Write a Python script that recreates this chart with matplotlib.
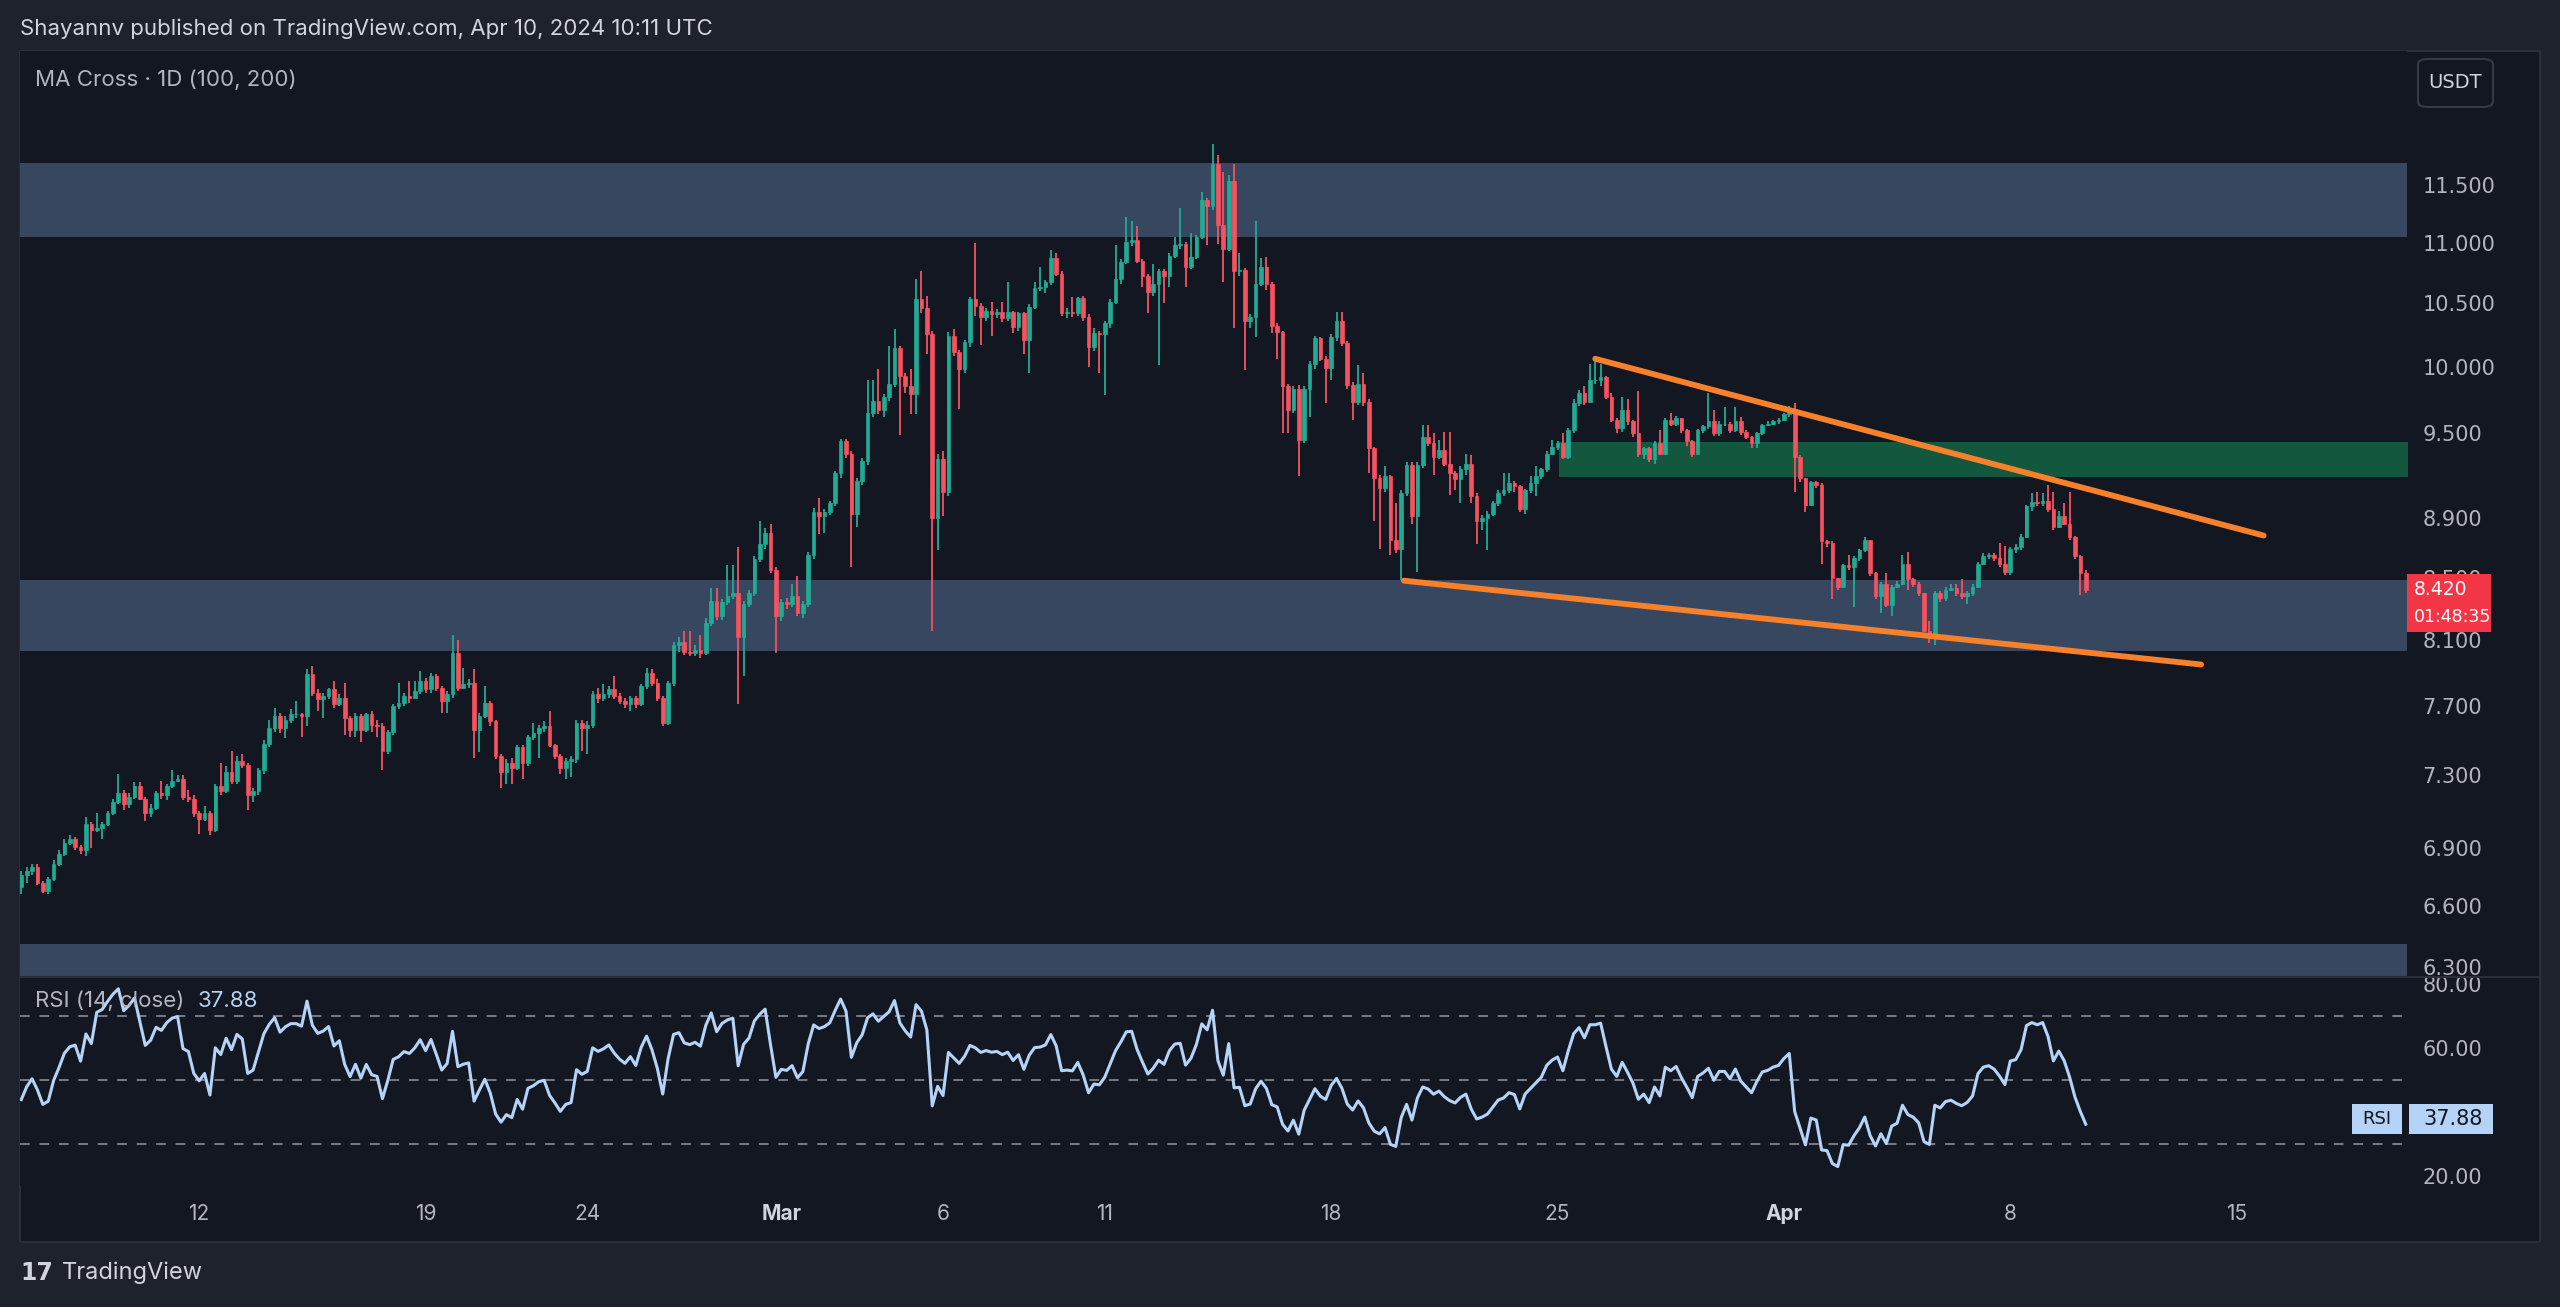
import numpy as np
import pandas as pd
import matplotlib
matplotlib.use('Agg')
import matplotlib.pyplot as plt
from matplotlib.patches import Rectangle, FancyBboxPatch
from matplotlib.lines import Line2D
from matplotlib.ticker import NullLocator

plt.rcParams['font.family'] = ['Inter', 'DejaVu Sans']

# ---- data (4h candles, first bar 2024-02-06 12:00 UTC) ----
start_time = '2024-02-06 12:00'
first_open = 6.70
close_px = [
    6.76, 6.78, 6.80, 6.72, 6.68, 6.74, 6.82, 6.87, 6.93, 6.95,
    6.91, 6.89, 7.03, 7.00, 7.01, 7.03, 7.09, 7.15, 7.20, 7.14,
    7.18, 7.24, 7.17, 7.09, 7.12, 7.20, 7.19, 7.24, 7.27, 7.28,
    7.18, 7.17, 7.09, 7.06, 7.09, 7.00, 7.24, 7.21, 7.32, 7.27,
    7.38, 7.36, 7.19, 7.21, 7.33, 7.48, 7.57, 7.64, 7.57, 7.62,
    7.65, 7.65, 7.64, 7.89, 7.78, 7.74, 7.76, 7.80, 7.71, 7.75,
    7.63, 7.56, 7.64, 7.56, 7.65, 7.59, 7.58, 7.44, 7.55, 7.70,
    7.72, 7.76, 7.75, 7.79, 7.85, 7.80, 7.88, 7.81, 7.73, 7.77,
    8.02, 7.81, 7.83, 7.84, 7.56, 7.64, 7.72, 7.61, 7.41, 7.32,
    7.37, 7.34, 7.46, 7.37, 7.52, 7.54, 7.57, 7.58, 7.47, 7.41,
    7.34, 7.38, 7.39, 7.60, 7.57, 7.59, 7.77, 7.75, 7.77, 7.80,
    7.76, 7.73, 7.71, 7.75, 7.71, 7.82, 7.90, 7.84, 7.75, 7.60,
    7.84, 8.07, 8.09, 8.03, 8.02, 8.04, 8.02, 8.21, 8.35, 8.25,
    8.34, 8.38, 8.40, 8.12, 8.33, 8.40, 8.62, 8.72, 8.80, 8.55,
    8.25, 8.34, 8.33, 8.38, 8.27, 8.33, 8.65, 8.94, 8.91, 8.94,
    9.00, 9.21, 9.44, 9.35, 8.93, 9.16, 9.30, 9.65, 9.74, 9.67,
    9.77, 9.87, 10.14, 9.93, 9.85, 9.79, 10.53, 10.46, 10.25, 8.90,
    9.31, 9.08, 10.24, 10.11, 9.98, 10.19, 10.53, 10.48, 10.39, 10.44,
    10.41, 10.43, 10.38, 10.43, 10.31, 10.42, 10.21, 10.47, 10.62, 10.63,
    10.67, 10.87, 10.74, 10.42, 10.43, 10.42, 10.54, 10.39, 10.15, 10.26,
    10.25, 10.34, 10.51, 10.70, 10.84, 11.01, 11.02, 10.85, 10.72, 10.59,
    10.66, 10.76, 10.72, 10.89, 10.98, 10.99, 10.80, 10.88, 11.05, 11.37,
    11.32, 11.69, 11.15, 10.95, 11.54, 10.76, 10.77, 10.36, 10.39, 10.66,
    10.80, 10.66, 10.32, 10.27, 9.85, 9.67, 9.83, 9.45, 9.83, 10.02,
    10.22, 10.06, 9.99, 10.23, 10.36, 10.18, 9.86, 9.73, 9.87, 9.73,
    9.39, 9.18, 9.11, 9.19, 8.75, 8.69, 9.07, 9.27, 8.91, 9.27,
    9.47, 9.43, 9.33, 9.38, 9.28, 9.21, 9.17, 9.24, 9.28, 9.05,
    8.88, 8.90, 8.93, 9.00, 9.07, 9.09, 9.14, 9.12, 8.96, 9.09,
    9.14, 9.19, 9.24, 9.35, 9.40, 9.43, 9.33, 9.52, 9.72, 9.80,
    9.73, 9.90, 9.90, 9.92, 9.77, 9.60, 9.54, 9.67, 9.59, 9.50,
    9.35, 9.39, 9.31, 9.43, 9.35, 9.60, 9.57, 9.61, 9.52, 9.44,
    9.35, 9.52, 9.55, 9.59, 9.50, 9.57, 9.57, 9.52, 9.59, 9.51,
    9.47, 9.43, 9.50, 9.56, 9.57, 9.59, 9.60, 9.64, 9.67, 9.33,
    9.18, 8.99, 9.15, 9.13, 8.74, 8.73, 8.50, 8.44, 8.58, 8.57,
    8.63, 8.68, 8.75, 8.53, 8.38, 8.46, 8.32, 8.44, 8.46, 8.59,
    8.49, 8.46, 8.40, 8.16, 8.12, 8.40, 8.37, 8.42, 8.43, 8.40,
    8.38, 8.40, 8.44, 8.59, 8.64, 8.65, 8.63, 8.59, 8.54, 8.69,
    8.70, 8.77, 8.98, 9.01, 9.00, 9.02, 8.96, 8.84, 8.91, 8.86,
    8.77, 8.64, 8.53, 8.42,
]
high_px = [
    6.78, 6.80, 6.82, 6.82, 6.73, 6.75, 6.84, 6.89, 6.95, 6.97,
    6.96, 6.92, 7.07, 7.04, 7.09, 7.04, 7.10, 7.17, 7.31, 7.22,
    7.20, 7.26, 7.26, 7.18, 7.14, 7.21, 7.27, 7.25, 7.33, 7.30,
    7.30, 7.22, 7.19, 7.10, 7.13, 7.10, 7.25, 7.37, 7.35, 7.44,
    7.41, 7.42, 7.37, 7.23, 7.34, 7.50, 7.62, 7.69, 7.66, 7.64,
    7.68, 7.73, 7.66, 7.92, 7.94, 7.80, 7.78, 7.81, 7.85, 7.77,
    7.84, 7.64, 7.66, 7.65, 7.66, 7.67, 7.62, 7.60, 7.56, 7.71,
    7.84, 7.78, 7.85, 7.85, 7.91, 7.87, 7.90, 7.89, 7.82, 7.79,
    8.13, 8.10, 7.93, 7.86, 7.92, 7.66, 7.82, 7.73, 7.62, 7.42,
    7.39, 7.40, 7.47, 7.47, 7.53, 7.60, 7.59, 7.61, 7.67, 7.48,
    7.42, 7.40, 7.41, 7.62, 7.62, 7.61, 7.79, 7.81, 7.83, 7.82,
    7.88, 7.78, 7.75, 7.76, 7.76, 7.83, 7.93, 7.92, 7.86, 7.76,
    7.85, 8.09, 8.12, 8.16, 8.16, 8.07, 8.13, 8.24, 8.43, 8.43,
    8.36, 8.58, 8.58, 8.70, 8.35, 8.42, 8.64, 8.88, 8.83, 8.86,
    8.57, 8.36, 8.37, 8.46, 8.51, 8.35, 8.67, 8.97, 9.04, 8.96,
    9.02, 9.23, 9.46, 9.46, 9.37, 9.18, 9.32, 9.90, 9.90, 9.98,
    9.79, 10.16, 10.29, 10.16, 9.95, 9.98, 10.70, 10.76, 10.56, 10.28,
    9.35, 9.37, 10.27, 10.29, 10.13, 10.21, 10.55, 11.00, 10.50, 10.46,
    10.51, 10.45, 10.51, 10.67, 10.44, 10.43, 10.43, 10.49, 10.67, 10.80,
    10.69, 10.94, 10.91, 10.76, 10.46, 10.55, 10.55, 10.56, 10.41, 10.30,
    10.28, 10.36, 10.53, 10.98, 10.86, 11.22, 11.19, 11.14, 10.86, 10.74,
    10.82, 10.78, 10.78, 10.91, 11.05, 11.30, 11.01, 11.08, 11.07, 11.44,
    11.39, 11.87, 11.77, 11.62, 11.59, 11.69, 10.91, 10.79, 10.41, 11.19,
    10.87, 10.88, 10.67, 10.34, 10.28, 9.87, 9.85, 9.86, 9.85, 10.04,
    10.24, 10.23, 10.08, 10.25, 10.43, 10.43, 10.20, 9.88, 10.01, 9.95,
    9.75, 9.40, 9.20, 9.26, 9.20, 9.00, 9.09, 9.29, 9.29, 9.29,
    9.56, 9.56, 9.50, 9.45, 9.51, 9.51, 9.23, 9.26, 9.35, 9.34,
    9.07, 8.92, 8.95, 9.02, 9.09, 9.21, 9.21, 9.16, 9.13, 9.10,
    9.19, 9.26, 9.25, 9.37, 9.45, 9.44, 9.50, 9.54, 9.75, 9.82,
    9.85, 10.02, 10.06, 10.02, 9.93, 9.80, 9.61, 9.77, 9.75, 9.60,
    9.81, 9.40, 9.40, 9.44, 9.52, 9.61, 9.65, 9.63, 9.61, 9.53,
    9.45, 9.53, 9.56, 9.80, 9.67, 9.59, 9.69, 9.58, 9.69, 9.62,
    9.52, 9.48, 9.51, 9.57, 9.59, 9.60, 9.61, 9.65, 9.70, 9.72,
    9.34, 9.18, 9.16, 9.16, 9.14, 8.75, 8.74, 8.50, 8.59, 8.65,
    8.64, 8.69, 8.77, 8.75, 8.54, 8.47, 8.53, 8.45, 8.48, 8.65,
    8.67, 8.50, 8.47, 8.40, 8.22, 8.41, 8.41, 8.44, 8.46, 8.46,
    8.49, 8.41, 8.46, 8.60, 8.66, 8.66, 8.66, 8.73, 8.71, 8.70,
    8.72, 8.79, 8.99, 9.07, 9.08, 9.07, 9.13, 9.08, 8.95, 9.00,
    9.08, 8.78, 8.65, 8.55,
]
low_px = [
    6.66, 6.72, 6.76, 6.71, 6.67, 6.66, 6.73, 6.81, 6.86, 6.92,
    6.89, 6.87, 6.86, 6.90, 6.99, 6.95, 7.02, 7.08, 7.14, 7.11,
    7.12, 7.17, 7.16, 7.05, 7.07, 7.11, 7.17, 7.16, 7.23, 7.26,
    7.16, 7.15, 7.07, 6.98, 7.05, 6.97, 6.99, 7.19, 7.20, 7.25,
    7.25, 7.34, 7.11, 7.15, 7.19, 7.31, 7.46, 7.55, 7.54, 7.51,
    7.60, 7.63, 7.52, 7.58, 7.76, 7.67, 7.63, 7.74, 7.69, 7.70,
    7.53, 7.52, 7.52, 7.49, 7.55, 7.55, 7.52, 7.33, 7.42, 7.53,
    7.68, 7.70, 7.72, 7.75, 7.77, 7.78, 7.78, 7.79, 7.66, 7.66,
    7.75, 7.79, 7.80, 7.81, 7.40, 7.43, 7.63, 7.58, 7.39, 7.23,
    7.25, 7.25, 7.33, 7.28, 7.35, 7.50, 7.40, 7.55, 7.46, 7.39,
    7.31, 7.28, 7.29, 7.37, 7.44, 7.42, 7.57, 7.72, 7.73, 7.75,
    7.74, 7.71, 7.69, 7.67, 7.69, 7.70, 7.80, 7.82, 7.73, 7.58,
    7.59, 7.82, 8.03, 8.01, 8.00, 8.00, 7.99, 8.01, 8.19, 8.23,
    8.23, 8.32, 8.36, 7.71, 7.88, 8.31, 8.38, 8.60, 8.69, 8.53,
    8.02, 8.22, 8.30, 8.31, 8.25, 8.24, 8.31, 8.62, 8.79, 8.80,
    8.92, 8.98, 9.18, 9.32, 8.57, 8.84, 9.13, 9.27, 9.62, 9.64,
    9.62, 9.74, 9.84, 9.49, 9.80, 9.64, 9.64, 10.42, 10.10, 8.16,
    8.68, 8.91, 9.05, 10.08, 9.68, 9.95, 10.15, 10.40, 10.17, 10.36,
    10.24, 10.38, 10.35, 10.36, 10.26, 10.28, 10.10, 9.95, 10.45, 10.60,
    10.58, 10.65, 10.72, 10.40, 10.38, 10.39, 10.40, 10.36, 10.00, 10.12,
    9.95, 9.78, 10.30, 10.49, 10.66, 10.82, 10.97, 10.83, 10.63, 10.42,
    10.56, 10.01, 10.50, 10.63, 10.87, 10.95, 10.63, 10.78, 10.86, 11.03,
    10.98, 11.28, 10.99, 10.67, 10.93, 10.30, 10.72, 9.975, 10.30, 10.23,
    10.64, 10.61, 10.26, 10.06, 9.50, 9.50, 9.65, 9.19, 9.43, 9.62,
    9.98, 10.04, 9.72, 9.90, 10.20, 10.16, 9.83, 9.60, 9.71, 9.70,
    9.21, 8.88, 8.69, 9.08, 8.65, 8.66, 8.485, 9.05, 8.86, 8.54,
    9.25, 9.41, 9.20, 9.31, 9.26, 9.06, 9.09, 9.00, 9.20, 9.00,
    8.72, 8.82, 8.68, 8.91, 8.98, 9.05, 9.07, 9.08, 8.94, 8.93,
    9.07, 9.05, 9.17, 9.22, 9.34, 9.38, 9.31, 9.31, 9.50, 9.70,
    9.71, 9.72, 9.87, 9.85, 9.75, 9.58, 9.50, 9.51, 9.56, 9.47,
    9.33, 9.31, 9.29, 9.28, 9.34, 9.34, 9.55, 9.55, 9.50, 9.41,
    9.33, 9.34, 9.50, 9.53, 9.48, 9.48, 9.55, 9.50, 9.51, 9.49,
    9.46, 9.39, 9.39, 9.49, 9.55, 9.56, 9.57, 9.59, 9.62, 9.08,
    9.15, 8.94, 8.98, 9.11, 8.59, 8.70, 8.36, 8.42, 8.43, 8.55,
    8.31, 8.61, 8.67, 8.51, 8.36, 8.27, 8.31, 8.25, 8.43, 8.45,
    8.42, 8.44, 8.38, 8.15, 8.08, 8.07, 8.34, 8.35, 8.41, 8.38,
    8.36, 8.33, 8.38, 8.43, 8.58, 8.62, 8.61, 8.57, 8.52, 8.52,
    8.66, 8.68, 8.76, 8.95, 8.98, 8.98, 8.94, 8.82, 8.83, 8.85,
    8.75, 8.62, 8.39, 8.40,
]
# RSI for the first bars (history before the window is not visible)
rsi_head = [44, 48, 50.5, 47, 42.5, 43.5, 50, 54, 58.5, 60.5, 61, 56, 64.5, 61.5]

# drawn zones (price ranges) and trendlines (bar index, price)
grey_zones = [(11.05, 11.70), (8.033, 8.485), (6.41, 6.0)]
green_zone = (285.3, 9.185, 9.436)
trend_upper = [(292, 10.06), (416, 8.78)]
trend_lower = [(256.5, 8.48), (404.4, 7.95)]

price_ticks = [11.5, 11.0, 10.5, 10.0, 9.5, 8.9, 8.5, 8.1, 7.7, 7.3, 6.9, 6.6, 6.3]
rsi_ticks = [80, 60, 20]
tick_dates = ['2024-02-12', '2024-02-19', '2024-02-24', '2024-03-01', '2024-03-06',
              '2024-03-11', '2024-03-18', '2024-03-25', '2024-04-01', '2024-04-08',
              '2024-04-15']
tick_labels = ['12', '19', '24', 'Mar', '6', '11', '18', '25', 'Apr', '8', '15']

# ---- colours ----
BG = '#1e222d'
PANE = '#131722'
UP = '#22ab94'
DOWN = '#f7525f'
ZONE = '#37475f'
GREENZ = '#13573f'
ORANGE = '#f7802b'
TXT = '#b2b5be'
AXFONT = 'DejaVu Sans'

W, H = 2560, 1307
fig = plt.figure(figsize=(W / 100, H / 100), dpi=100)
fig.patch.set_facecolor(BG)


def rect(x0, y0, x1, y1):
    return [x0 / W, 1 - y1 / H, (x1 - x0) / W, (y1 - y0) / H]


fig.add_artist(Rectangle((20 / W, 1 - 1242 / H), 2520 / W, (1242 - 51) / H,
                         transform=fig.transFigure, facecolor=PANE,
                         edgecolor='#2a2e39', lw=1.5, zorder=0))

ax = fig.add_axes(rect(20, 51, 2407, 977))
ax_r = fig.add_axes(rect(20, 977, 2407, 1186), sharex=ax)
for a in (ax, ax_r):
    a.set_facecolor(PANE)
    for s in a.spines.values():
        s.set_visible(False)

close = np.array(close_px)
high = np.array(high_px)
low = np.array(low_px)
opn = np.r_[first_open, close[:-1]]
idx = np.arange(len(close))
high = np.maximum(high, np.maximum(opn, close))
low = np.minimum(low, np.minimum(opn, close))
up = close >= opn
cols = np.where(up, UP, DOWN)

ax.set_yscale('log')
ax.set_ylim(6.25, 12.75)
ax.set_xlim(-0.24, 442.6)

for lo, hi in grey_zones:
    ax.axhspan(lo, hi, color=ZONE, lw=0, zorder=0)
ax.fill_between([green_zone[0], 450], green_zone[1], green_zone[2], color=GREENZ, lw=0, zorder=0)

ax.vlines(idx, low, high, colors=cols, lw=1.3, zorder=2)
ax.bar(idx, np.abs(close - opn), bottom=np.minimum(opn, close), width=0.68,
       color=cols, edgecolor=cols, linewidth=0.5, zorder=3)

for tl in (trend_upper, trend_lower):
    ax.plot([p[0] for p in tl], [p[1] for p in tl], color=ORANGE, lw=4.2,
            solid_capstyle='round', zorder=4)

ax.yaxis.set_minor_locator(NullLocator())
ax.set_yticks(price_ticks)
ax.set_yticklabels(['{:.3f}'.format(t) for t in price_ticks], family=AXFONT)
ax.yaxis.tick_right()
ax.tick_params(axis='y', length=0, pad=11, labelsize=15, labelcolor=TXT)
ax.tick_params(axis='x', length=0, labelbottom=False)

# ---- RSI ----
chg = np.diff(np.r_[first_open, close])
gain = np.clip(chg, 0, None)
loss = np.clip(-chg, 0, None)
n = 14
rsi = np.full(len(close), np.nan)
rsi[:n] = rsi_head
ag, al = gain[:n].mean(), loss[:n].mean()
for i in range(n, len(close)):
    ag = (ag * (n - 1) + gain[i]) / n
    al = (al * (n - 1) + loss[i]) / n
    rsi[i] = 100 - 100 / (1 + ag / al)

ax_r.set_ylim(17.0, 82.3)
for lv in (70, 50, 30):
    ax_r.axhline(lv, color='#787b86', lw=1.4, dashes=(5, 5), zorder=1)
ax_r.plot(idx, rsi, color='#b4d3f7', lw=2.2, zorder=3)
ax_r.set_yticks(rsi_ticks)
ax_r.set_yticklabels(['{:.2f}'.format(t) for t in rsi_ticks], family=AXFONT)
ax_r.yaxis.tick_right()
ax_r.tick_params(axis='y', length=0, pad=11, labelsize=15, labelcolor=TXT)

start = pd.Timestamp(start_time)
tick_pos = (pd.to_datetime(tick_dates) - start) / pd.Timedelta(hours=4)
ax_r.set_xticks(np.asarray(tick_pos, dtype=float))
ax_r.set_xticklabels(tick_labels)
ax_r.tick_params(axis='x', length=0, pad=13, labelsize=15, labelcolor=TXT)
for t in ax_r.get_xticklabels():
    if t.get_text() in ('Mar', 'Apr'):
        t.set_fontweight('bold')
        t.set_color('#d1d4dc')

# pane separator
fig.add_artist(Line2D([20 / W, 2540 / W], [1 - 977 / H] * 2, color='#2a2e39', lw=1.5))

# ---- labels / boxes ----
fig.text(20 / W, 1 - 29 / H, 'Shayannv published on TradingView.com, Apr 10, 2024 10:11 UTC',
         color='#d1d4dc', fontsize=16, va='center')
fig.text(35 / W, 1 - 80 / H, 'MA Cross · 1D (100, 200)', color=TXT, fontsize=16, va='center')

fig.add_artist(FancyBboxPatch((2418 / W, 1 - 107 / H), 75 / W, 48 / H,
                              boxstyle='round,pad=0,rounding_size=0.004',
                              transform=fig.transFigure, facecolor=PANE,
                              edgecolor='#363a45', lw=1.5))
fig.text(2455 / W, 1 - 83 / H, 'USDT', color='#d1d4dc', fontsize=14, ha='center', va='center',
         family=AXFONT)

# last price label
last = close[-1]
py = ax.transData.transform((0, last))[1] / fig.dpi / fig.get_figheight()
fig.add_artist(Rectangle((2407 / W, py - 42 / H), 84 / W, 58 / H,
                         transform=fig.transFigure, facecolor='#f23645', lw=0, zorder=5))
fig.text(2414 / W, py, '{:.3f}'.format(last), color='white', fontsize=13.5, va='center',
         zorder=6, family=AXFONT)
fig.text(2414 / W, py - 27 / H, '01:48:35', color='white', fontsize=12.5, va='center',
         zorder=6, family=AXFONT)

# RSI legend and label
fig.text(35 / W, 1 - 1001 / H, 'RSI (14, close)', color=TXT, fontsize=16, va='center')
fig.text(198 / W, 1 - 1001 / H, '37.88', color='#b4d3f7', fontsize=16, va='center')
ry = ax_r.transData.transform((0, 37.88))[1] / fig.dpi / fig.get_figheight()
fig.add_artist(Rectangle((2409 / W, ry - 15 / H), 84 / W, 30 / H,
                         transform=fig.transFigure, facecolor='#b4d3f7', lw=0, zorder=5))
fig.text(2423 / W, ry, '37.88', color='#131722', fontsize=15, va='center', zorder=6,
         family=AXFONT)
fig.add_artist(Rectangle((2352 / W, ry - 15 / H), 50 / W, 30 / H,
                         transform=fig.transFigure, facecolor='#b4d3f7', lw=0, zorder=5))
fig.text(2377 / W, ry, 'RSI', color='#131722', fontsize=13, va='center', ha='center', zorder=6,
         family=AXFONT)

# footer logo
fig.text(20 / W, 1 - 1273 / H, '17', color='#d1d4dc', fontsize=17, fontweight='heavy',
         va='center', family='DejaVu Sans')
fig.text(62 / W, 1 - 1273 / H, 'TradingView', color='#d1d4dc', fontsize=17, va='center')

fig.savefig('out.png', dpi=100, facecolor=fig.get_facecolor())
